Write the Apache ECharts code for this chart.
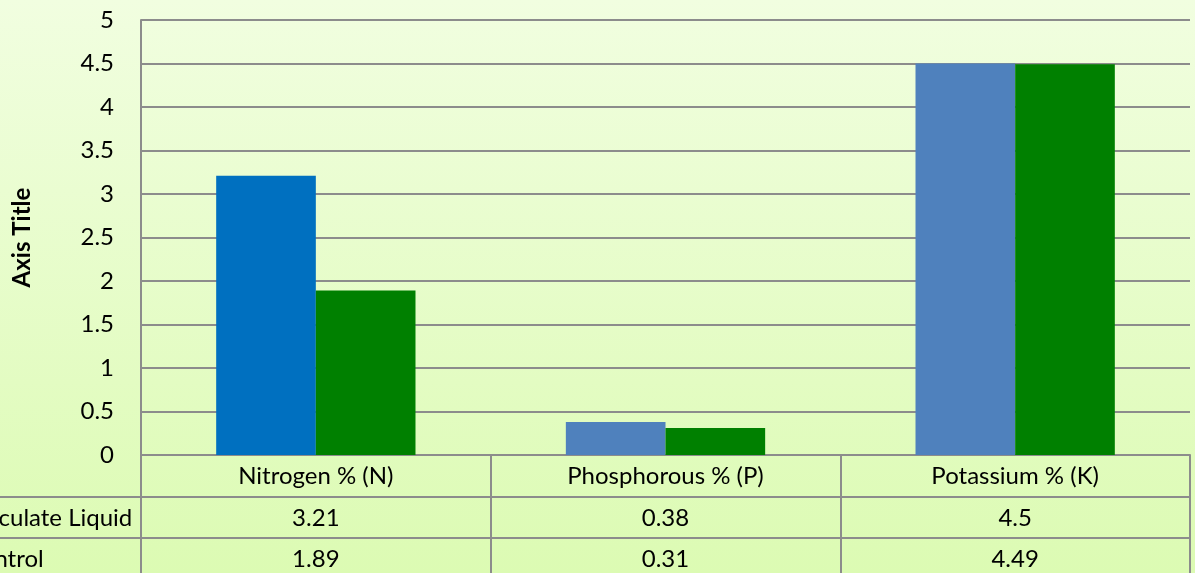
<!DOCTYPE html>
<html>
<head>
<meta charset="utf-8">
<script src="https://cdn.jsdelivr.net/npm/echarts@6/dist/echarts.min.js"></script>
<style>
  html, body { margin: 0; padding: 0; }
  #chart { width: 1195px; height: 573px; }
</style>
</head>
<body>
<div id="chart"></div>
<script>
// data
const categories = ['Nitrogen % (N)', 'Phosphorous % (P)', 'Potassium % (K)']
const seriesNames = ['Inoculate Liquid', 'Control']
const inoculateValues = [3.21, 0.38, 4.5]
const controlValues = [1.89, 0.31, 4.49]
const yTicks = { min: 0, max: 5, interval: 0.5 }

const gridColor = '#8c8c8c'
const font = 'Lato, "Open Sans", sans-serif'
const fontSize = 24
const rowH = 42
const gridLeft = 141
const gridBottom = 118

const chartDom = document.getElementById('chart')
const chartInstance = echarts.init(chartDom)

// 表格行的 x 轴 (数据表)
const tableAxis = (offset, labels, name) => {
  return {
    type: 'category',
    position: 'bottom',
    offset: offset,
    data: categories,
    axisLine: { show: true, lineStyle: { color: gridColor, width: 2 } },
    axisTick: { show: true, length: rowH, lineStyle: { color: gridColor, width: 2 } },
    axisLabel: {
      margin: 0,
      formatter: (v, i) => String(labels[i]),
      color: '#000',
      fontFamily: font,
      fontSize: fontSize,
      lineHeight: rowH,
      verticalAlign: 'top'
    },
    name: name || '',
    nameLocation: 'start',
    nameGap: 176,
    nameTextStyle: {
      color: '#000',
      fontFamily: font,
      fontSize: fontSize,
      align: 'left',
      verticalAlign: 'top',
      lineHeight: rowH
    }
  }
}

const option = {
  animation: false,
  backgroundColor: new echarts.graphic.LinearGradient(0, 0, 0, 1, [
    { offset: 0, color: '#f1fee0' },
    { offset: 1, color: '#dcfbb3' }
  ]),
  grid: { left: gridLeft, right: 5, top: 20, bottom: gridBottom, outerBoundsMode: 'none', containLabel: false },
  xAxis: [
    tableAxis(0, categories),
    tableAxis(rowH, inoculateValues, seriesNames[0]),
    tableAxis(rowH * 2 - 1, controlValues, seriesNames[1])
  ],
  yAxis: {
    type: 'value',
    min: yTicks.min,
    max: yTicks.max,
    interval: yTicks.interval,
    name: 'Axis Title',
    nameLocation: 'middle',
    nameGap: 107,
    nameTextStyle: { color: '#000', fontFamily: font, fontSize: fontSize, fontWeight: 'bold' },
    axisLine: { show: true, lineStyle: { color: gridColor, width: 2 } },
    axisTick: { show: false },
    axisLabel: { color: '#000', fontFamily: font, fontSize: fontSize, margin: 27 },
    splitLine: { lineStyle: { color: gridColor, width: 2 } }
  },
  series: [
    {
      name: seriesNames[0],
      type: 'bar',
      xAxisIndex: 0,
      barGap: 0,
      barCategoryGap: '43%',
      data: inoculateValues.map((v, i) => ({
        value: v,
        itemStyle: { color: i === 0 ? '#0070c0' : '#4f81bd' }
      }))
    },
    {
      name: seriesNames[1],
      type: 'bar',
      xAxisIndex: 0,
      barGap: 0,
      barCategoryGap: '43%',
      itemStyle: { color: '#008000' },
      data: controlValues
    }
  ],
  // 行标题左侧的横线
  graphic: [1, 2].map(k => ({
    type: 'line',
    shape: { x1: 0, y1: 573 - gridBottom + rowH * k - (k - 1), x2: gridLeft, y2: 573 - gridBottom + rowH * k - (k - 1) },
    style: { stroke: gridColor, lineWidth: 2 }
  }))
}
chartInstance.setOption(option)
</script>
</body>
</html>
